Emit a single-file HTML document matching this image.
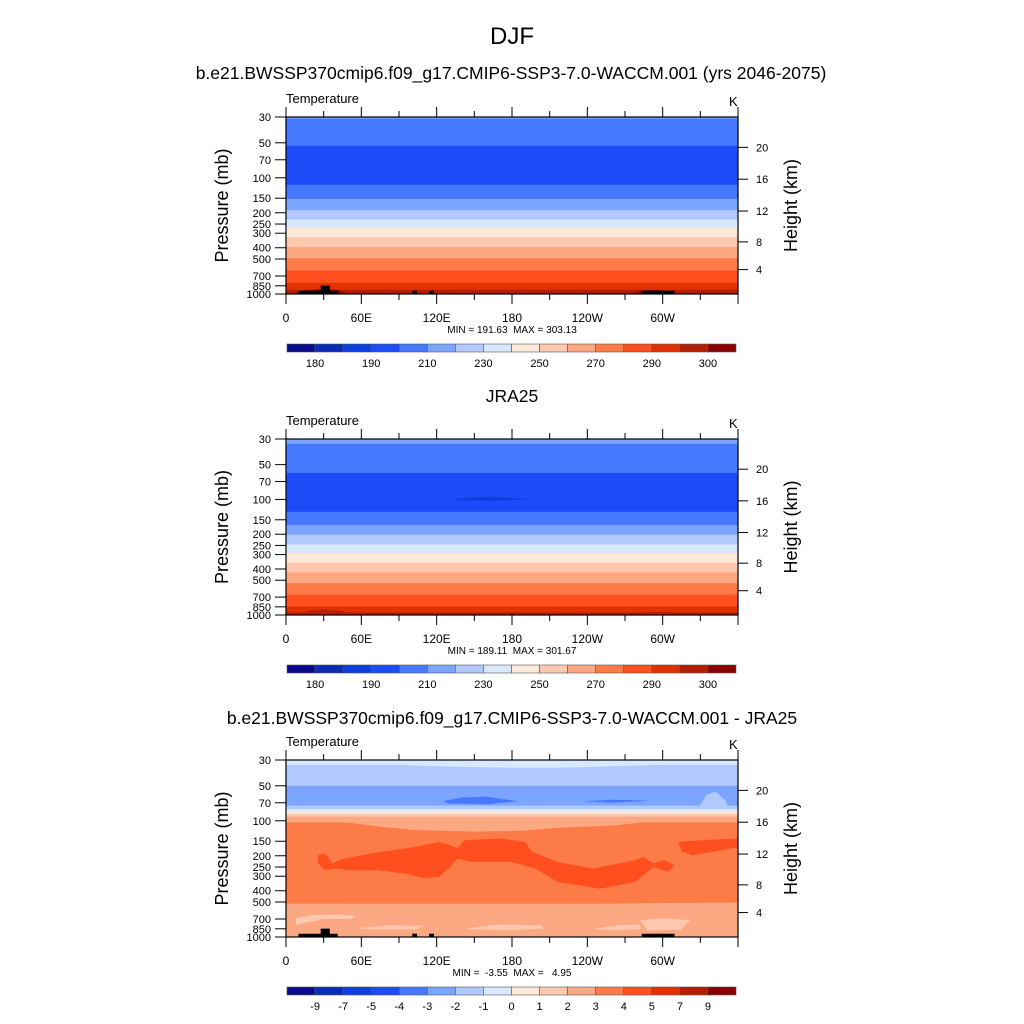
<!DOCTYPE html>
<html><head><meta charset="utf-8"><style>
html,body{margin:0;padding:0;background:#fff;}
svg{display:block;font-family:"Liberation Sans",Arial,sans-serif;}
</style></head><body>
<svg id="chart" width="1024" height="1024" viewBox="0 0 1024 1024">
<text x="512" y="44" font-size="24" text-anchor="middle">DJF</text>
<text x="511" y="79" font-size="17.5" text-anchor="middle">b.e21.BWSSP370cmip6.f09_g17.CMIP6-SSP3-7.0-WACCM.001 (yrs 2046-2075)</text>
<text x="512" y="402" font-size="17.5" text-anchor="middle">JRA25</text>
<text x="512" y="724" font-size="17.5" text-anchor="middle">b.e21.BWSSP370cmip6.f09_g17.CMIP6-SSP3-7.0-WACCM.001 - JRA25</text>
<g id="panels"></g>
</svg>
<script>
const colors=["#0a0a8c","#0a2cb4","#0d3ee0","#1c4bf8","#4679ff","#7ca5ff","#b2c9ff","#d8e8ff","#fde9d9","#fcc8b0","#fca882","#fd7b47","#ff4f1e","#e13100","#b31e00","#8a0000"];
const xTickLon=[0,60,120,180,240,300];
const xTickLab=["0","60E","120E","180","120W","60W"];
const yTickP=[30,50,70,100,150,200,250,300,400,500,700,850,1000];
const kmTicks=[4,8,12,16,20];
const cbLabelsAbs=["180","190","210","230","250","270","290","300"];
const cbLabelsDiff=["-9","-7","-5","-4","-3","-2","-1","0","1","2","3","4","5","7","9"];
const p1BandP=[30,31,53,115,152,190,229,267,324,393,491,627,802,922,1000];
const p1BandC=[5,4,3,4,5,6,7,8,9,10,11,12,13,14];
const p2BandP=[30,33,59,128,167,202,245,291,352,427,530,666,845,949,1000];
const p2BandC=[5,4,3,4,5,6,7,8,9,10,11,12,13,14];
const p3BandP=[30,33,50,74,79,83,87,92,103,518,962,1000];
const p3BandC=[7,6,5,6,7,8,9,10,11,10,11];
const p1DarkLon=[5,15,30,42,50];const p1DarkP=[1000,930,905,930,1000];
const p1DarkLon2=[275,285,300,312];const p1DarkP2=[1000,925,930,1000];
const p2MinLon=[130.7,150,165,194.6,165,140];const p2MinP=[100,96,95,100,103,102];
const p2DarkLon=[5,20,32,45,55];const p2DarkP=[1000,915,895,930,1000];
const p2DarkLon2=[275,290,305,315];const p2DarkP2=[1000,935,945,1000];
const p3TopLon=[60,120,180,220,260,300];const p3TopP=[32,34,35,35,34,33];
const p3BulgeLon=[40,54,73.9,102.3,150,187.5,215.9,260,285];const p3BulgeP=[103,105,112,120,124,122,115,110,103];
const p3RedLon=[25.6,31.3,36.9,45.5,68.2,102.3,122.2,130.7,136.4,142,170.5,190.3,196,215.9,244.3,278.4,284.1,292.6,301.1,309.7,304,292.6,278.4,250,215.9,198.9,179,147.7,136.4,130.7,122.2,108,96.6,73.9,51.1,39.8,31.3,25.6];
const p3RedP=[198,191,233,212,191,168,152,162,173,147,142,152,185,226,258,218,204,233,218,242,276,249,336,384,336,258,226,226,212,249,305,311,286,267,267,258,267,233];
const p3RedLon2=[312.5,330,360,360,340,323.9,315.4];const p3RedP2=[152,147,142,168,185,198,185];
const p3LowLon=[0,45,90,150,200,245,300,360,360,0];const p3LowP=[518,518,560,572,565,520,510,505,1000,1000];
const p3LightA_Lon=[8,20,40,56,52,30,20,8];const p3LightA_P=[690,650,640,660,700,700,740,780];
const p3LightB_Lon=[57,80,110,104,70];const p3LightB_P=[840,795,800,860,860];
const p3LightC_Lon=[145,170,203,205,180,148];const p3LightC_P=[840,780,795,850,870,860];
const p3LightD_Lon=[245,265,282,282,258];const p3LightD_P=[850,795,780,860,870];
const p3LightE_Lon=[282,300,322,314,288];const p3LightE_P=[720,690,715,870,880];
const p3BlueA_Lon=[125,140,160,184.7,160,130];const p3BlueA_P=[68,63,62,68,72,71];
const p3BlueB_Lon=[235.8,260,289.8,260];const p3BlueB_P=[68,66,67,70];
const p3BumpLon=[329.6,335,342,349.4,352];const p3BumpP=[74,60,56,66,74];
const topoLon=[9.9,27.6,27.6,34.9,34.9,41.2,41.2,9.9];const topoP=[936,936,847,847,936,936,1000,1000];
const topoLon2=[100.6,104.3,104.3,100.6];const topoP2=[936,936,1000,1000];
const topoLon3=[113.9,117.9,117.9,113.9];const topoP3=[936,936,1000,1000];
const topoLon4=[283.3,309.4,309.4,283.3];const topoP4=[936,936,1000,1000];

const NS="http://www.w3.org/2000/svg";
const root=document.getElementById('panels');
const X0=286,X1=738;
function mk(tag,attrs,parent){const e=document.createElementNS(NS,tag);for(const k in attrs)e.setAttribute(k,attrs[k]);(parent||root).appendChild(e);return e;}
function xs(lon){return X0+(X1-X0)*lon/360;}
function ysF(top,bot){return p=>bot-(bot-top)*Math.log(1000/p)/Math.log(1000/30);}
function kmToP(z){const m=z*1000;return m<=11000?1013.25*Math.pow(1-2.25577e-5*m,5.2559):226.32*Math.exp(-(m-11000)/6341.6);}

function panel(idx,top,bot,bandP,bandC,polys,minmax,cbLabels,cbStep){
  const g=mk('g',{});
  
  
  const ys=ysF(top,bot);
  for(let i=0;i<bandC.length;i++){
    const r=mk('rect',{x:X0,y:ys(bandP[i]),width:X1-X0,height:ys(bandP[i+1])-ys(bandP[i])+0.5,fill:colors[bandC[i]]},g);
    
    
  }
  polys.forEach(pl=>{
    const pts=pl.lon.map((l,j)=>xs(l).toFixed(1)+','+ys(pl.p[j]).toFixed(1)).join(' ');
    const e=mk('polygon',{points:pts,fill:pl.c},g);
    
    
  });
  const fr=mk('rect',{x:X0,y:top,width:X1-X0,height:bot-top,fill:'none',stroke:'#000','stroke-width':1.2},g);
  
  
  for(let l=0;l<=360;l+=30){
    const major=l%60===0;const len=major?10:6;
    const x=xs(l);
    mk('line',{x1:x,x2:x,y1:bot,y2:bot+len,stroke:'#000','stroke-width':1},g);
    mk('line',{x1:x,x2:x,y1:top,y2:top-len,stroke:'#000','stroke-width':1},g);
  }
  xTickLon.forEach((l,i)=>{
    const t=mk('text',{x:xs(l),y:bot+28,'font-size':12,'text-anchor':'middle'},g);t.textContent=xTickLab[i];
    
    
  });
  yTickP.forEach(p=>{
    const y=ys(p);
    mk('line',{x1:X0-11,x2:X0,y1:y,y2:y,stroke:'#000','stroke-width':1},g);
    const t=mk('text',{x:X0-15,y:y+4,'font-size':11,'text-anchor':'end'},g);t.textContent=p;
    
    
  });
  kmTicks.forEach(z=>{
    const y=ys(kmToP(z));
    mk('line',{x1:X1,x2:X1+10,y1:y,y2:y,stroke:'#000','stroke-width':1},g);
    const t=mk('text',{x:X1+18,y:y+4,'font-size':11},g);t.textContent=z;
    
    
  });
  const mid=(top+bot)/2;
  const yl=mk('text',{x:0,y:0,'font-size':18,'text-anchor':'middle',transform:`translate(228,${mid}) rotate(-90)`},g);yl.textContent='Pressure (mb)';
  
  
  const yr=mk('text',{x:0,y:0,'font-size':18,'text-anchor':'middle',transform:`translate(797,${mid}) rotate(-90)`},g);yr.textContent='Height (km)';
  
  
  const tl=mk('text',{x:286,y:top-14,'font-size':13},g);tl.textContent='Temperature';
  
  
  const ku=mk('text',{x:729,y:top-11,'font-size':13},g);ku.textContent='K';
  
  
  const mm=mk('text',{x:512,y:bot+39,'font-size':10,'text-anchor':'middle',style:'white-space:pre'},g);mm.textContent=minmax;
  
  
  const cy=bot+50,bw=(736-287)/16;
  for(let i=0;i<16;i++){
    const r=mk('rect',{x:287+i*bw,y:cy,width:bw,height:8,fill:colors[i],stroke:'#555','stroke-width':0.6},g);
    
    
  }
  cbLabels.forEach((s,i)=>{
    const t=mk('text',{x:287+bw*(1+i*cbStep),y:cy+23,'font-size':11,'text-anchor':'middle'},g);t.textContent=s;
    
    
  });
}
const topo=[{lon:topoLon,p:topoP,c:'#000',name:'topography'},{lon:topoLon2,p:topoP2,c:'#000',name:'topography'},{lon:topoLon3,p:topoP3,c:'#000',name:'topography'},{lon:topoLon4,p:topoP4,c:'#000',name:'topography'}];
panel(1,117,294,p1BandP,p1BandC,[{lon:p1DarkLon,p:p1DarkP,c:colors[15],name:'warm-core'},{lon:p1DarkLon2,p:p1DarkP2,c:colors[15],name:'warm-core'}].concat(topo),'MIN = 191.63  MAX = 303.13',cbLabelsAbs,2);
panel(2,439,615,p2BandP,p2BandC,[{lon:p2MinLon,p:p2MinP,c:colors[2],name:'cold-core'},{lon:p2DarkLon,p:p2DarkP,c:colors[14],name:'warm-core'},{lon:p2DarkLon2,p:p2DarkP2,c:colors[14],name:'warm-core'}],'MIN = 189.11  MAX = 301.67',cbLabelsAbs,2);
panel(3,760,937,p3BandP,p3BandC,[
 {lon:[0].concat(p3TopLon,[360,360,0]),p:[33].concat(p3TopP,[33,30,30]),c:colors[7],name:'top-anomaly'},
 {lon:p3BulgeLon,p:p3BulgeP,c:colors[10],name:'anomaly-region'},
 {lon:p3RedLon,p:p3RedP,c:colors[12],name:'warm-anomaly'},
 {lon:p3RedLon2,p:p3RedP2,c:colors[12],name:'warm-anomaly'},
 {lon:p3LowLon,p:p3LowP,c:colors[10],name:'lower-anomaly'},
 {lon:p3LightA_Lon,p:p3LightA_P,c:colors[9],name:'weak-anomaly'},
 {lon:p3LightB_Lon,p:p3LightB_P,c:colors[9],name:'weak-anomaly'},
 {lon:p3LightC_Lon,p:p3LightC_P,c:colors[9],name:'weak-anomaly'},
 {lon:p3LightD_Lon,p:p3LightD_P,c:colors[9],name:'weak-anomaly'},
 {lon:p3LightE_Lon,p:p3LightE_P,c:colors[9],name:'weak-anomaly'},
 {lon:p3BlueA_Lon,p:p3BlueA_P,c:colors[4],name:'cold-anomaly'},
 {lon:p3BlueB_Lon,p:p3BlueB_P,c:colors[4],name:'cold-anomaly'},
 {lon:p3BumpLon,p:p3BumpP,c:colors[6],name:'cold-anomaly-bump'}
].concat(topo),'MIN =  -3.55  MAX =   4.95',cbLabelsDiff,1);
</script>
</body></html>
